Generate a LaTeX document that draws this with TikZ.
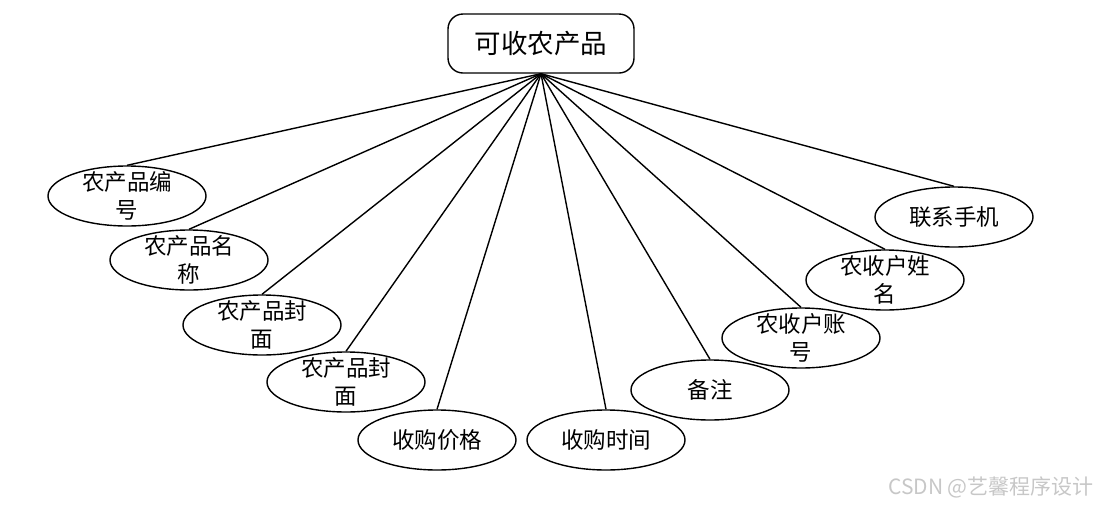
\documentclass[tikz,border=0pt]{standalone}
\usepackage{fontspec}
\newfontfamily\cjk{Noto Sans CJK SC}
\usetikzlibrary{shapes.geometric}
\tikzset{
  attr/.style={draw, line width=1.4pt, ellipse, minimum width=158pt, minimum height=60pt, inner sep=0pt, fill=white},
  lbl/.style={font=\cjk\fontsize{22.5}{28}\selectfont, align=center, inner sep=0pt},
  entity/.style={draw, line width=1.4pt, rounded corners=15pt, minimum width=186pt, minimum height=59pt, inner sep=0pt, font=\cjk\fontsize{26.5}{30}\selectfont, fill=white},
  link/.style={line width=1.4pt},
  mark wm/.style={font=\cjk\fontsize{21}{22}\selectfont, text=black!22, anchor=east, inner sep=0pt}
}
\begin{document}
\begin{tikzpicture}[x=1pt,y=-1pt]
\useasboundingbox (0,0) rectangle (1101,507);
\node[entity] (top) at (541,43.5) {可收农产品};
\node[attr] (a1) at (127,196) {};
\node[attr] (a2) at (189,260) {};
\node[attr] (a3) at (262,325) {};
\node[attr] (a4) at (346,382) {};
\node[attr] (a5) at (437,440) {};
\node[attr] (a6) at (606,440) {};
\node[attr] (a7) at (710,390) {};
\node[attr] (a8) at (801,338) {};
\node[attr] (a9) at (885,280) {};
\node[attr] (a10) at (954,217) {};
\foreach \i in {1,...,10} { \draw[link] (top.south) -- (a\i.north); }
\node[lbl] (t1) at (a1) {农产品编\\号};
\node[lbl] (t2) at (a2) {农产品名\\称};
\node[lbl] (t3) at (a3) {农产品封\\面};
\node[lbl] (t4) at (a4) {农产品封\\面};
\node[lbl] (t5) at (a5) {收购价格};
\node[lbl] (t6) at (a6) {收购时间};
\node[lbl] (t7) at (a7) {备注};
\node[lbl] (t8) at (a8) {农收户账\\号};
\node[lbl] (t9) at (a9) {农收户姓\\名};
\node[lbl] (t10) at (a10) {联系手机};
\node[mark wm] (wm) at (1094,487) {CSDN @艺馨程序设计};
\end{tikzpicture}
\end{document}
